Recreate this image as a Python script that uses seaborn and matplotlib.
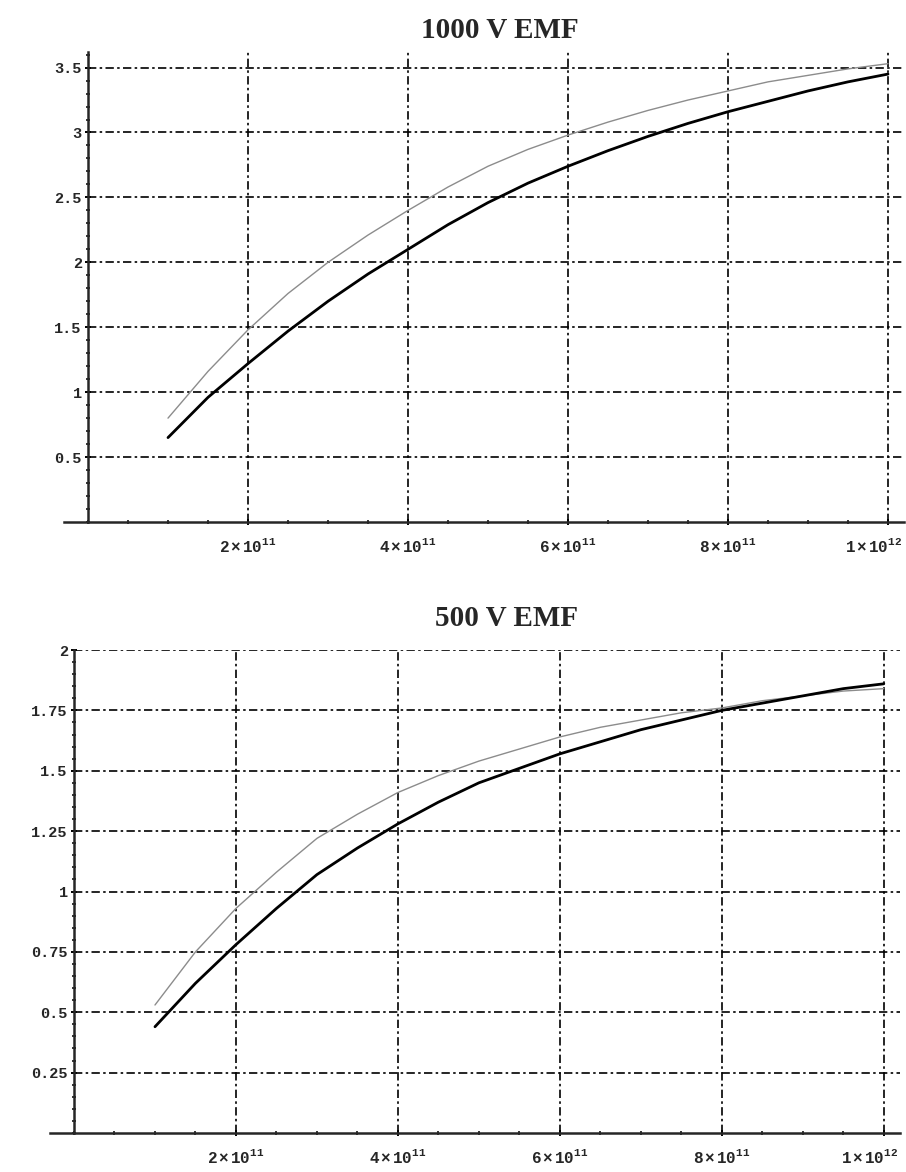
import matplotlib
matplotlib.use("Agg")
import matplotlib.pyplot as plt
import matplotlib.transforms as mtransforms
import seaborn as sns
import pandas as pd
from matplotlib.ticker import MultipleLocator

sns.set_style("white")
plt.rcParams['mathtext.fontset'] = 'custom'
plt.rcParams['mathtext.rm'] = 'Liberation Mono:bold'
plt.rcParams['mathtext.it'] = 'Liberation Mono:bold'
plt.rcParams['mathtext.bf'] = 'Liberation Mono:bold'

# ---- data ----
x_vals = [1.0e11, 1.5e11, 2.0e11, 2.5e11, 3.0e11, 3.5e11, 4.0e11, 4.5e11, 5.0e11, 5.5e11,
          6.0e11, 6.5e11, 7.0e11, 7.5e11, 8.0e11, 8.5e11, 9.0e11, 9.5e11, 1.0e12]

top_black = [0.65, 0.96, 1.22, 1.47, 1.70, 1.91, 2.10, 2.29, 2.46, 2.61,
             2.74, 2.86, 2.97, 3.07, 3.16, 3.24, 3.32, 3.39, 3.45]
top_gray = [0.80, 1.16, 1.48, 1.76, 2.00, 2.21, 2.40, 2.58, 2.74, 2.87,
            2.98, 3.08, 3.17, 3.25, 3.32, 3.39, 3.44, 3.49, 3.53]

bot_black = [0.44, 0.62, 0.78, 0.93, 1.07, 1.18, 1.28, 1.37, 1.45, 1.51,
             1.57, 1.62, 1.67, 1.71, 1.75, 1.78, 1.81, 1.84, 1.86]
bot_gray = [0.53, 0.75, 0.93, 1.08, 1.22, 1.32, 1.41, 1.48, 1.54, 1.59,
            1.64, 1.68, 1.71, 1.74, 1.76, 1.79, 1.81, 1.83, 1.84]

top_title = "1000 V EMF"
bot_title = "500 V EMF"
top_yticks = [0.5, 1, 1.5, 2, 2.5, 3, 3.5]
top_ylabels = ["0.5", "1", "1.5", "2", "2.5", "3", "3.5"]
bot_yticks = [0.25, 0.5, 0.75, 1, 1.25, 1.5, 1.75, 2]
bot_ylabels = ["0.25", "0.5", "0.75", "1", "1.25", "1.5", "1.75", "2"]
xticks = [2e11, 4e11, 6e11, 8e11, 1e12]
xlabels = [r"$2\times10^{11}$", r"$4\times10^{11}$", r"$6\times10^{11}$",
           r"$8\times10^{11}$", r"$1\times10^{12}$"]

W, H = 906, 1172
fig = plt.figure(figsize=(W / 100, H / 100), dpi=100)

def px_axes(left, right, top, bottom):
    return fig.add_axes([left / W, 1 - bottom / H, (right - left) / W, (bottom - top) / H])

ax1 = px_axes(88, 904, 52, 522)
ax2 = px_axes(74, 900, 650, 1133)

def draw(ax, black, gray, title, yt, yl, ylim, yminor, title_x, title_y):
    df = pd.DataFrame({"x": x_vals * 2,
                       "y": black + gray,
                       "s": ["black"] * len(x_vals) + ["gray"] * len(x_vals)})
    sns.lineplot(data=df[df.s == "gray"], x="x", y="y", ax=ax, color="#8c8c8c", lw=1.0)
    sns.lineplot(data=df[df.s == "black"], x="x", y="y", ax=ax, color="black", lw=2.0)
    ax.set_xlim(0, 1.02e12)
    ax.set_ylim(*ylim)
    ax.set_xlabel("")
    ax.set_ylabel("")
    for s in ["top", "right"]:
        ax.spines[s].set_visible(False)
    ax.spines["left"].set_linewidth(1.8)
    ax.spines["bottom"].set_linewidth(1.8)
    ax.spines["bottom"].set_bounds(-0.03e12, 1.02e12)
    ax.set_xticks(xticks)
    ax.set_xticklabels(xlabels, fontsize=11.5)
    ax.set_yticks(yt)
    ax.set_yticklabels(yl, family="Liberation Mono", fontweight="bold", fontsize=11)
    ax.xaxis.set_minor_locator(MultipleLocator(0.5e11))
    ax.yaxis.set_minor_locator(MultipleLocator(yminor))
    ax.tick_params(axis="both", which="both", bottom=True, left=True, color="black")
    ax.tick_params(axis="both", which="major", direction="inout", length=5, width=1.4, pad=2)
    ax.tick_params(axis="x", which="major", pad=8)
    ax.tick_params(axis="both", which="minor", direction="inout", length=3, width=1.1)
    ax.grid(True, which="major", color="black", lw=1.2, linestyle=(0, (5, 2, 1.5, 2)))
    ax.grid(False, which="minor")
    lab = ax.get_xticklabels()[-1]
    lab.set_transform(lab.get_transform() + mtransforms.ScaledTranslation(-14 / 100, 0, fig.dpi_scale_trans))
    fig.text(title_x / W, 1 - title_y / H, title, ha="center", va="center",
             family="Liberation Serif", fontweight="bold", fontsize=21)

draw(ax1, top_black, top_gray, top_title, top_yticks, top_ylabels, (0, 3.62), 0.1, 500, 31)
draw(ax2, bot_black, bot_gray, bot_title, bot_yticks, bot_ylabels, (0, 2.0), 0.05, 507, 618)

fig.savefig("out.png", dpi=100)
